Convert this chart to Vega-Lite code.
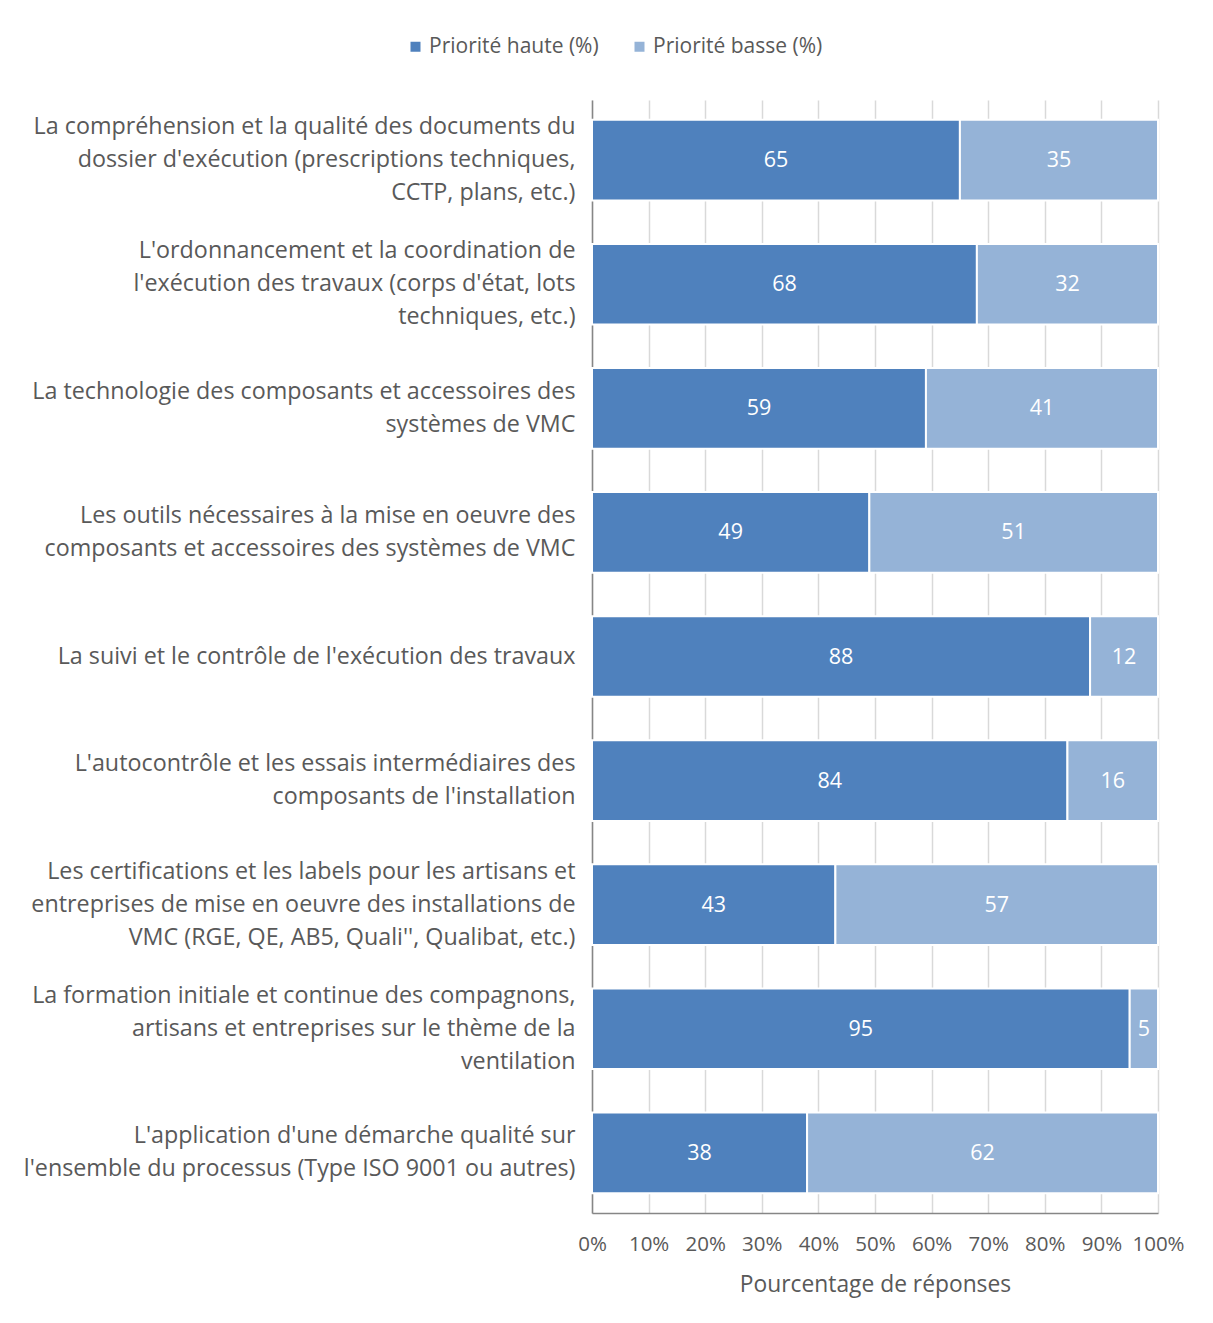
{
  "$schema": "https://vega.github.io/schema/vega-lite/v6.json",
  "autosize": {"type": "none"},
  "width": 566,
  "height": 1113,
  "padding": {"left": 592, "top": 100, "right": 55, "bottom": 110},
  "background": "white",
  "data": {"values": [
    {"q": "La compréhension et la qualité des documents du|dossier d'exécution (prescriptions techniques,|CCTP, plans, etc.)", "s": "Priorité haute (%)", "o": 1, "v": 65},
    {"q": "La compréhension et la qualité des documents du|dossier d'exécution (prescriptions techniques,|CCTP, plans, etc.)", "s": "Priorité basse (%)", "o": 2, "v": 35},
    {"q": "L'ordonnancement et la coordination de|l'exécution des travaux (corps d'état, lots|techniques, etc.)", "s": "Priorité haute (%)", "o": 1, "v": 68},
    {"q": "L'ordonnancement et la coordination de|l'exécution des travaux (corps d'état, lots|techniques, etc.)", "s": "Priorité basse (%)", "o": 2, "v": 32},
    {"q": "La technologie des composants et accessoires des|systèmes de VMC", "s": "Priorité haute (%)", "o": 1, "v": 59},
    {"q": "La technologie des composants et accessoires des|systèmes de VMC", "s": "Priorité basse (%)", "o": 2, "v": 41},
    {"q": "Les outils nécessaires à la mise en oeuvre des|composants et accessoires des systèmes de VMC", "s": "Priorité haute (%)", "o": 1, "v": 49},
    {"q": "Les outils nécessaires à la mise en oeuvre des|composants et accessoires des systèmes de VMC", "s": "Priorité basse (%)", "o": 2, "v": 51},
    {"q": "La suivi et le contrôle de l'exécution des travaux", "s": "Priorité haute (%)", "o": 1, "v": 88},
    {"q": "La suivi et le contrôle de l'exécution des travaux", "s": "Priorité basse (%)", "o": 2, "v": 12},
    {"q": "L'autocontrôle et les essais intermédiaires des|composants de l'installation", "s": "Priorité haute (%)", "o": 1, "v": 84},
    {"q": "L'autocontrôle et les essais intermédiaires des|composants de l'installation", "s": "Priorité basse (%)", "o": 2, "v": 16},
    {"q": "Les certifications et les labels pour les artisans et|entreprises de mise en oeuvre des installations de|VMC (RGE, QE, AB5, Quali'', Qualibat, etc.)", "s": "Priorité haute (%)", "o": 1, "v": 43},
    {"q": "Les certifications et les labels pour les artisans et|entreprises de mise en oeuvre des installations de|VMC (RGE, QE, AB5, Quali'', Qualibat, etc.)", "s": "Priorité basse (%)", "o": 2, "v": 57},
    {"q": "La formation initiale et continue des compagnons,|artisans et entreprises sur le thème de la|ventilation", "s": "Priorité haute (%)", "o": 1, "v": 95},
    {"q": "La formation initiale et continue des compagnons,|artisans et entreprises sur le thème de la|ventilation", "s": "Priorité basse (%)", "o": 2, "v": 5},
    {"q": "L'application d'une démarche qualité sur|l'ensemble du processus (Type ISO 9001 ou autres)", "s": "Priorité haute (%)", "o": 1, "v": 38},
    {"q": "L'application d'une démarche qualité sur|l'ensemble du processus (Type ISO 9001 ou autres)", "s": "Priorité basse (%)", "o": 2, "v": 62}
  ]},
  "transform": [
    {"stack": "v", "groupby": ["q"], "sort": [{"field": "o"}], "as": ["v0", "v1"]},
    {"calculate": "(datum.v0 + datum.v1) / 2", "as": "mid"}
  ],
  "encoding": {
    "y": {
      "field": "q", "type": "nominal", "sort": null,
      "scale": {"paddingInner": 0.35, "paddingOuter": 0.16},
      "axis": {
        "title": null,
        "labelExpr": "split(datum.label, '|')",
        "labelFont": "Open Sans", "labelFontSize": 23.3, "labelColor": "#595959",
        "labelLineHeight": 33, "labelLimit": 700, "labelPadding": 17,
        "labelOffset": {"condition": [
          {"test": "length(split(datum.label, '|')) == 3", "value": -33},
          {"test": "length(split(datum.label, '|')) == 2", "value": -16.5}
        ], "value": 0},
        "ticks": false, "domainColor": "#868686", "domainWidth": 1.5
      }
    }
  },
  "layer": [
    {
      "mark": {"type": "bar", "stroke": "white", "strokeWidth": 2},
      "encoding": {
        "x": {
          "field": "v0", "type": "quantitative",
          "scale": {"domain": [0, 100], "nice": false},
          "axis": {
            "title": "Pourcentage de réponses",
            "values": [0, 10, 20, 30, 40, 50, 60, 70, 80, 90, 100],
            "labelExpr": "datum.value + '%'",
            "labelFont": "Open Sans", "labelFontSize": 20.5, "labelColor": "#595959",
            "labelPadding": 21, "ticks": false, "labelOverlap": false, "labelFlush": false,
            "grid": true, "gridColor": "#D9D9D9", "gridWidth": 1.5,
            "domainColor": "#868686", "domainWidth": 1.5,
            "titleFont": "Open Sans", "titleFontSize": 22.8, "titleColor": "#595959",
            "titleFontWeight": "normal", "titlePadding": 19
          }
        },
        "x2": {"field": "v1"},
        "color": {
          "field": "s", "type": "nominal",
          "scale": {"domain": ["Priorité haute (%)", "Priorité basse (%)"], "range": ["#4F81BD", "#95B3D7"]},
          "legend": {
            "title": null, "orient": "none", "direction": "horizontal",
            "legendX": -187, "legendY": -64,
            "symbolType": "square", "symbolSize": 100, "symbolStrokeWidth": 0,
            "labelFont": "Open Sans", "labelFontSize": 21, "labelColor": "#595959",
            "labelLimit": 400, "columnPadding": 30, "labelOffset": 3
          }
        }
      }
    },
    {
      "mark": {"type": "text", "color": "white", "font": "Open Sans", "fontSize": 21.5, "dy": 1},
      "encoding": {
        "x": {"field": "mid", "type": "quantitative"},
        "text": {"field": "v", "type": "quantitative"}
      }
    }
  ],
  "config": {"view": {"stroke": null}}
}
